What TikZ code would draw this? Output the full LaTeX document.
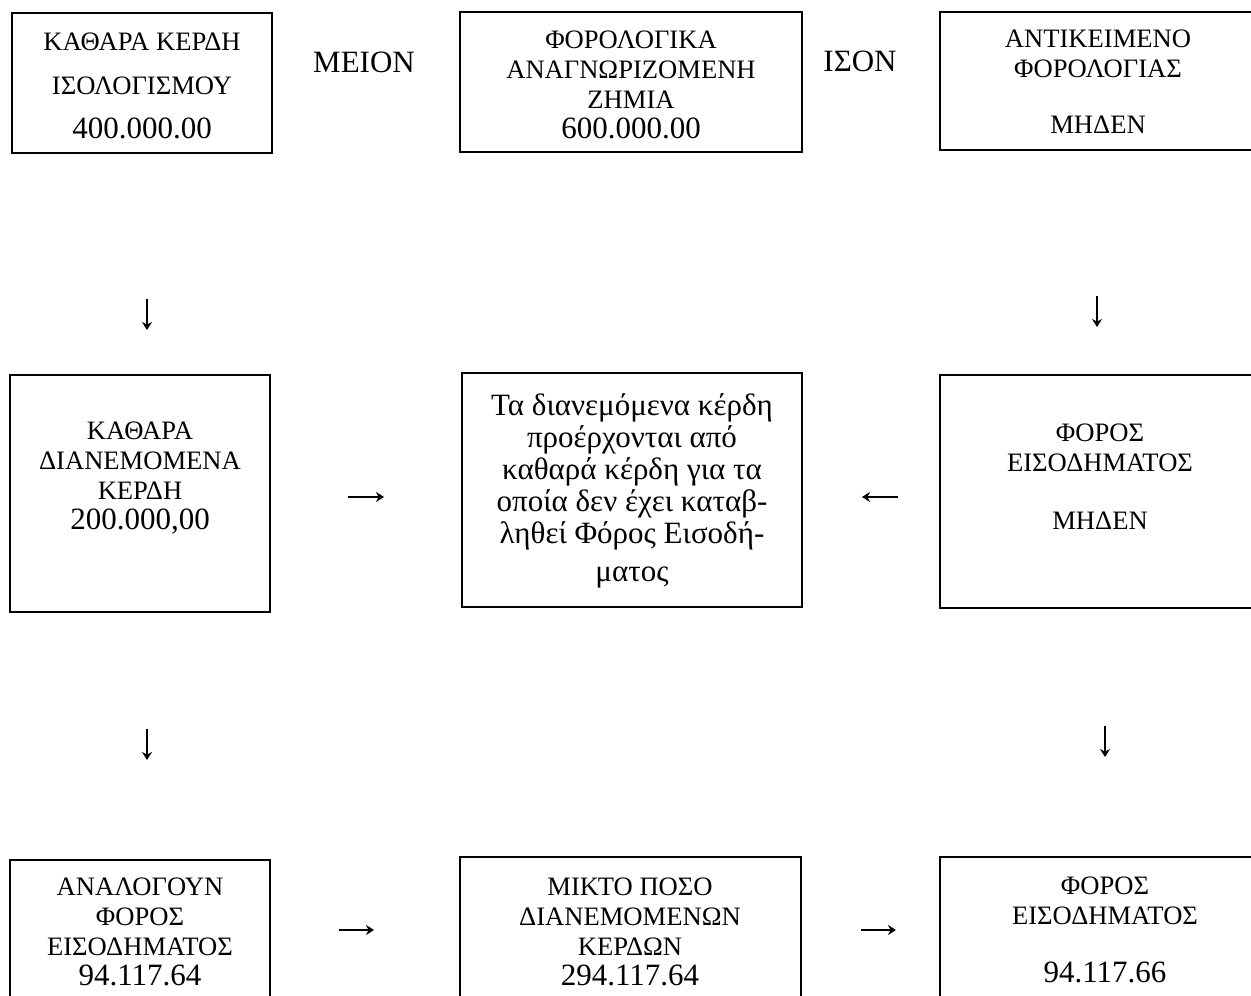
\documentclass[tikz,border=0pt]{standalone}
\usepackage{fontspec}
\setmainfont{Liberation Serif}
\usetikzlibrary{arrows.meta}
\tikzset{
  fbox/.style ={rectangle, draw=black, line width=1.1pt, inner sep=0pt},
  ftext/.style={align=center, inner sep=0pt, font=\fontsize{13.3}{15}\selectfont},
  fnote/.style={align=center, inner sep=0pt, font=\fontsize{15.5}{16}\selectfont},
  fword/.style={inner sep=0pt, font=\fontsize{15.5}{18}\selectfont},
  farrow/.style={-{Stealth[length=4pt,width=5pt]}, line width=0.75pt},
}
\newcommand{\poso}[1]{{\fontsize{15.5}{15}\selectfont #1}}

\begin{document}
\begin{tikzpicture}[x=0.5pt, y=-0.5pt]
  \useasboundingbox (0,0) rectangle (1251,995);
  \clip (0,0) rectangle (1251,995);
  % top row
  \node[fbox, minimum width=130pt, minimum height=70pt]   (kerdi)  at (142,83)   {};
  \node[fbox, minimum width=171pt, minimum height=70pt]   (zimia)  at (631,82)   {};
  \node[fbox, minimum width=158pt, minimum height=69pt]   (antik)  at (1098,81)  {};
  \node[ftext] (kerdiT) at (142,86) {ΚΑΘΑΡΑ ΚΕΡΔΗ\\[7pt]ΙΣΟΛΟΓΙΣΜΟΥ\\[7pt]\poso{400.000.00}};
  \node[ftext] (zimiaT) at (631,85) {ΦΟΡΟΛΟΓΙΚΑ\\ΑΝΑΓΝΩΡΙΖΟΜΕΝΗ\\ΖΗΜΙΑ\\\poso{600.000.00}};
  \node[ftext] (antikT) at (1098,82) {ΑΝΤΙΚΕΙΜΕΝΟ\\ΦΟΡΟΛΟΓΙΑΣ\\[13pt]ΜΗΔΕΝ};
  \node[fword] (meion) at (364,62) {ΜΕΙΟΝ};
  \node[fword] (ison)  at (860,61) {ΙΣΟΝ};
  % middle row
  \node[fbox, minimum width=130pt, minimum height=118.5pt] (dianem) at (140,493.5)  {};
  \node[fbox, minimum width=170pt, minimum height=117pt]   (sxolio) at (632,490)    {};
  \node[fbox, minimum width=161pt, minimum height=116.5pt] (foros)  at (1101,491.5) {};
  \node[ftext] (dianemT) at (140,478) {ΚΑΘΑΡΑ\\ΔΙΑΝΕΜΟΜΕΝΑ\\ΚΕΡΔΗ\\\poso{200.000,00}};
  \node[fnote] (sxolioT) at (632,491) {Τα διανεμόμενα κέρδη\\προέρχονται από\\καθαρά κέρδη για τα\\οποία δεν έχει καταβ-\\ληθεί Φόρος Εισοδή-\\[3pt]ματος};
  \node[ftext] (forosT)  at (1100,477) {ΦΟΡΟΣ\\ΕΙΣΟΔΗΜΑΤΟΣ\\[14pt]ΜΗΔΕΝ};
  % bottom row
  \node[fbox, minimum width=130pt, minimum height=118.5pt]  (analog) at (140,978.5)  {};
  \node[fbox, minimum width=170.5pt, minimum height=118.5pt] (mikto) at (630.5,975.5) {};
  \node[fbox, minimum width=164pt, minimum height=118.5pt]  (telos)  at (1104,975.5) {};
  \node[ftext] (analogT) at (140,932) {ΑΝΑΛΟΓΟΥΝ\\ΦΟΡΟΣ\\ΕΙΣΟΔΗΜΑΤΟΣ\\\poso{94.117.64}};
  \node[ftext] (miktoT)  at (630,932) {ΜΙΚΤΟ ΠΟΣΟ\\ΔΙΑΝΕΜΟΜΕΝΩΝ\\ΚΕΡΔΩΝ\\\poso{294.117.64}};
  \node[ftext] (telosT)  at (1105,930) {ΦΟΡΟΣ\\ΕΙΣΟΔΗΜΑΤΟΣ\\[14pt]\poso{94.117.66}};
  % arrows
  \coordinate (d1a) at (147,299);  \coordinate (d1b) at (147,330);
  \coordinate (d2a) at (1097,296); \coordinate (d2b) at (1097,327);
  \coordinate (d3a) at (147,729);  \coordinate (d3b) at (147,760);
  \coordinate (d4a) at (1105,726); \coordinate (d4b) at (1105,757);
  \coordinate (r1a) at (348,497);  \coordinate (r1b) at (384,497);
  \coordinate (l1a) at (898,497);  \coordinate (l1b) at (862,497);
  \coordinate (r2a) at (339,930);  \coordinate (r2b) at (374,930);
  \coordinate (r3a) at (861,930);  \coordinate (r3b) at (896,930);
  \draw[farrow] (d1a) -- (d1b);
  \draw[farrow] (d2a) -- (d2b);
  \draw[farrow] (d3a) -- (d3b);
  \draw[farrow] (d4a) -- (d4b);
  \draw[farrow] (r1a) -- (r1b);
  \draw[farrow] (l1a) -- (l1b);
  \draw[farrow] (r2a) -- (r2b);
  \draw[farrow] (r3a) -- (r3b);
\end{tikzpicture}
\end{document}
